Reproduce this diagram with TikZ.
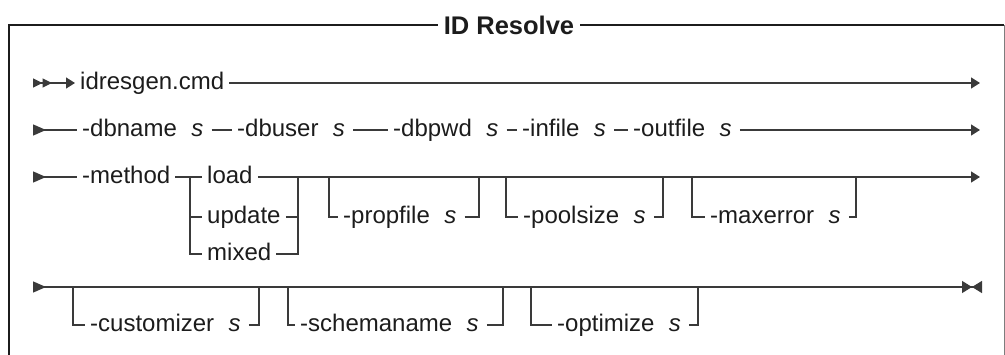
\documentclass[tikz,border=0pt]{standalone}
\usepackage{fontspec}
\setmainfont{Liberation Sans}
\definecolor{railgray}{RGB}{58,58,58}
\definecolor{inkblack}{RGB}{28,28,28}
\definecolor{edgegray}{RGB}{125,125,125}
\usetikzlibrary{positioning, arrows.meta}

\begin{document}
\begin{tikzpicture}[x=1pt, y=1pt,
    kw/.style={anchor=west, inner xsep=5pt, inner ysep=0pt, text height=12.4pt,
      text depth=0pt, text=inkblack, font=\fontsize{24}{28}\selectfont},
    argvar/.style={inner xsep=8pt, inner ysep=0pt, text height=12.4pt,
      text depth=0pt, text=inkblack, font=\fontsize{24}{28}\selectfont\itshape},
    title/.style={inner xsep=6pt, text=inkblack,
      font=\fontsize{25.5}{30}\selectfont\bfseries},
    frame/.style={inkblack, line width=2.4pt},
    edge/.style={edgegray, line width=1pt},
    rail/.style={railgray, line width=1.3pt},
    railin/.style={rail, {Triangle[reversed, length=13pt, width=11pt]}-},
    railout/.style={rail, -{Triangle[length=9pt, width=11pt]}},
    railfirst/.style={rail,
      {Triangle[reversed, length=9.5pt, width=9pt, sep=0pt]Triangle[reversed, length=9.5pt, width=9pt]}-{Triangle[length=9pt, width=11pt]}},
    raillast/.style={rail,
      {Triangle[reversed, length=13pt, width=11pt]}-{Triangle[length=10pt, width=12pt, sep=0pt]Triangle[reversed, length=10pt, width=12pt]}},
  ]
    \useasboundingbox (0,0) rectangle (1005,354);

    % frame and title
    \node[title] (title) at (509,329) {ID Resolve};
    \coordinate (tl) at (9,329);
    \coordinate (tr) at (1004,329);
    \coordinate (bl) at (9,-3);
    \coordinate (br) at (1004,-3);
    \draw[frame] (title.west) -- (tl) -- (bl);
    \draw[frame] (title.east) -- (tr);
    \draw[edge] (tr) -- (br);

    % row 1
    \coordinate (r1in) at (33,271);
    \coordinate (r1out) at (980,271);
    \node[kw] (idres) at (75,271) {idresgen.cmd};
    \draw[railfirst] (r1in) -- (idres.west);
    \draw[railout] (idres.east) -- (r1out);

    % row 2
    \coordinate (r2in) at (33,224);
    \coordinate (r2out) at (980,224);
    \node[kw] (dbname) at (77,224) {-dbname};
    \node[argvar, right=1pt of dbname] (sname) {s};
    \node[kw] (dbuser) at (232,224) {-dbuser};
    \node[argvar, right=1pt of dbuser] (suser) {s};
    \node[kw] (dbpwd) at (388,224) {-dbpwd};
    \node[argvar, right=1pt of dbpwd] (spwd) {s};
    \node[kw] (infile) at (517,224) {-infile};
    \node[argvar, right=1pt of infile] (sin) {s};
    \node[kw] (outfile) at (628,224) {-outfile};
    \node[argvar, right=1pt of outfile] (sout) {s};
    \draw[railin] (r2in) -- (dbname.west);
    \draw[rail] (sname.east) -- (dbuser.west);
    \draw[rail] (suser.east) -- (dbpwd.west);
    \draw[rail] (spwd.east) -- (infile.west);
    \draw[rail] (sin.east) -- (outfile.west);
    \draw[railout] (sout.east) -- (r2out);

    % row 3
    \coordinate (r3in) at (33,177);
    \coordinate (r3out) at (980,177);
    \coordinate (chl) at (190,177);
    \coordinate (chr) at (298,177);
    \node[kw] (method) at (77,177) {-method};
    \node[kw] (load) at (202,177) {load};
    \node[kw] (update) at (202,137) {update};
    \node[kw] (mixed) at (202,100) {mixed};
    \draw[railin] (r3in) -- (method.west);
    \draw[rail] (method.east) -- (chl) -- (load.west);
    \draw[rail] (chl) |- (mixed.west);
    \draw[rail] (chl |- update.west) -- (update.west);
    \draw[rail] (update.east) -- (chr |- update.east);
    \draw[rail] (mixed.east) -| (chr);
    \draw[railout] (load.east) -- (r3out);

    \coordinate (pfl) at (329,177);
    \coordinate (pfr) at (479,177);
    \node[kw] (propfile) at (338,137) {-propfile};
    \node[argvar, right=1pt of propfile] (sprop) {s};
    \draw[rail] (pfl) |- (propfile.west);
    \draw[rail] (sprop.east) -| (pfr);

    \coordinate (psl) at (506,177);
    \coordinate (psr) at (663,177);
    \node[kw] (poolsize) at (518,137) {-poolsize};
    \node[argvar, right=1pt of poolsize] (spool) {s};
    \draw[rail] (psl) |- (poolsize.west);
    \draw[rail] (spool.east) -| (psr);

    \coordinate (mel) at (692,177);
    \coordinate (mer) at (856,177);
    \node[kw] (maxerror) at (705,137) {-maxerror};
    \node[argvar, right=1pt of maxerror] (smax) {s};
    \draw[rail] (mel) |- (maxerror.west);
    \draw[rail] (smax.east) -| (mer);

    % row 4
    \coordinate (r4in) at (33,67);
    \coordinate (r4out) at (982,67);
    \draw[raillast] (r4in) -- (r4out);

    \coordinate (cul) at (73,67);
    \coordinate (cur) at (259,67);
    \node[kw] (customizer) at (85,29) {-customizer};
    \node[argvar, right=1pt of customizer] (scust) {s};
    \draw[rail] (cul) |- (customizer.west);
    \draw[rail] (scust.east) -| (cur);

    \coordinate (scl) at (288,67);
    \coordinate (scr) at (503,67);
    \node[kw] (schemaname) at (295,29) {-schemaname};
    \node[argvar, right=1pt of schemaname] (sschema) {s};
    \draw[rail] (scl) |- (schemaname.west);
    \draw[rail] (sschema.east) -| (scr);

    \coordinate (opl) at (531,67);
    \coordinate (opr) at (698,67);
    \node[kw] (optimize) at (552,29) {-optimize};
    \node[argvar, right=1pt of optimize] (sopt) {s};
    \draw[rail] (opl) |- (optimize.west);
    \draw[rail] (sopt.east) -| (opr);
  \end{tikzpicture}
\end{document}
